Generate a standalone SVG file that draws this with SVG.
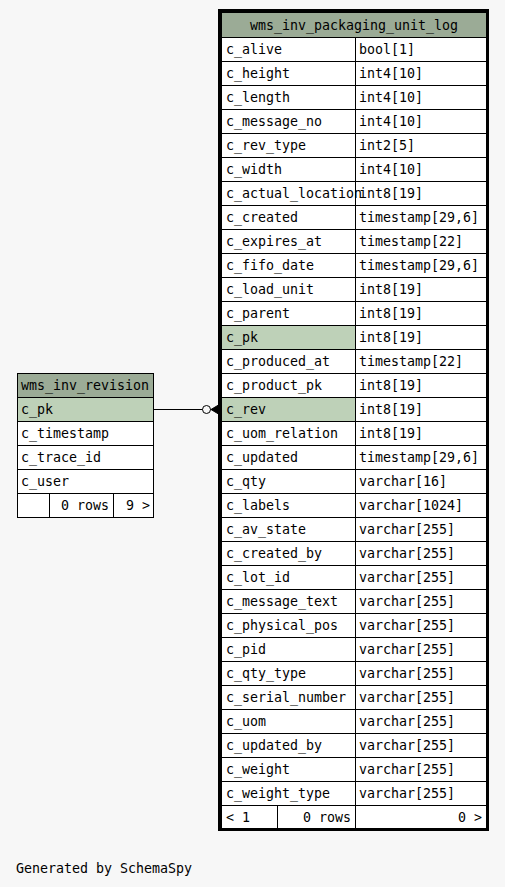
<svg xmlns="http://www.w3.org/2000/svg" width="505" height="887" viewBox="0 0 505 887">
<style>
text{font-family:"DejaVu Sans Mono","Liberation Mono",monospace;font-size:13.3px;fill:#000}
.hd{fill:#9bab96;stroke:#000;stroke-width:1}
.pk{fill:#bed1b8;stroke:#000;stroke-width:1}
.c{fill:#fff;stroke:#000;stroke-width:1}
.m{text-anchor:middle}
.r{text-anchor:end}
</style>
<rect width="505" height="887" fill="#f7f7f7"/>
<g id="connectors">
<line x1="154" y1="409.5" x2="202.5" y2="409.5" stroke="#000" stroke-width="1"/>
<circle cx="206.5" cy="409.5" r="4" fill="none" stroke="#000" stroke-width="1"/>
<polygon points="211,409.5 218.5,405 218.5,414" fill="#000" stroke="#000" stroke-width="1"/>
<line x1="210.5" y1="409.5" x2="218.5" y2="409.5" stroke="#000" stroke-width="1"/>
</g>
<g id="wms_inv_revision">
<rect class="hd" x="17.5" y="373.5" width="136" height="24"/>
<text x="21" y="390">wms_inv_revision</text>
<rect class="pk" x="17.5" y="397.5" width="136" height="24"/>
<text x="21" y="414">c_pk</text>
<rect class="c" x="17.5" y="421.5" width="136" height="24"/>
<text x="21" y="438">c_timestamp</text>
<rect class="c" x="17.5" y="445.5" width="136" height="24"/>
<text x="21" y="462">c_trace_id</text>
<rect class="c" x="17.5" y="469.5" width="136" height="24"/>
<text x="21" y="486">c_user</text>
<rect class="c" x="17.5" y="493.5" width="32" height="24"/>
<rect class="c" x="49.5" y="493.5" width="64" height="24"/>
<rect class="c" x="113.5" y="493.5" width="40" height="24"/>
<text class="r" x="109" y="510">0 rows</text>
<text class="r" x="150" y="510">9 &gt;</text>
</g>
<g id="wms_inv_packaging_unit_log">
<rect x="218" y="9" width="271" height="822" fill="#000"/>
<rect class="hd" x="221.5" y="12.5" width="265" height="25"/>
<text class="m" x="354" y="30">wms_inv_packaging_unit_log</text>
<g id="rows">
<rect class="c" x="221.5" y="37.5" width="134" height="24"/><rect class="c" x="355.5" y="37.5" width="131" height="24"/><text x="226" y="54">c_alive</text><text x="359" y="54">bool[1]</text>
<rect class="c" x="221.5" y="61.5" width="134" height="24"/><rect class="c" x="355.5" y="61.5" width="131" height="24"/><text x="226" y="78">c_height</text><text x="359" y="78">int4[10]</text>
<rect class="c" x="221.5" y="85.5" width="134" height="24"/><rect class="c" x="355.5" y="85.5" width="131" height="24"/><text x="226" y="102">c_length</text><text x="359" y="102">int4[10]</text>
<rect class="c" x="221.5" y="109.5" width="134" height="24"/><rect class="c" x="355.5" y="109.5" width="131" height="24"/><text x="226" y="126">c_message_no</text><text x="359" y="126">int4[10]</text>
<rect class="c" x="221.5" y="133.5" width="134" height="24"/><rect class="c" x="355.5" y="133.5" width="131" height="24"/><text x="226" y="150">c_rev_type</text><text x="359" y="150">int2[5]</text>
<rect class="c" x="221.5" y="157.5" width="134" height="24"/><rect class="c" x="355.5" y="157.5" width="131" height="24"/><text x="226" y="174">c_width</text><text x="359" y="174">int4[10]</text>
<rect class="c" x="221.5" y="181.5" width="134" height="24"/><rect class="c" x="355.5" y="181.5" width="131" height="24"/><text x="226" y="198">c_actual_location</text><text x="359" y="198">int8[19]</text>
<rect class="c" x="221.5" y="205.5" width="134" height="24"/><rect class="c" x="355.5" y="205.5" width="131" height="24"/><text x="226" y="222">c_created</text><text x="359" y="222">timestamp[29,6]</text>
<rect class="c" x="221.5" y="229.5" width="134" height="24"/><rect class="c" x="355.5" y="229.5" width="131" height="24"/><text x="226" y="246">c_expires_at</text><text x="359" y="246">timestamp[22]</text>
<rect class="c" x="221.5" y="253.5" width="134" height="24"/><rect class="c" x="355.5" y="253.5" width="131" height="24"/><text x="226" y="270">c_fifo_date</text><text x="359" y="270">timestamp[29,6]</text>
<rect class="c" x="221.5" y="277.5" width="134" height="24"/><rect class="c" x="355.5" y="277.5" width="131" height="24"/><text x="226" y="294">c_load_unit</text><text x="359" y="294">int8[19]</text>
<rect class="c" x="221.5" y="301.5" width="134" height="24"/><rect class="c" x="355.5" y="301.5" width="131" height="24"/><text x="226" y="318">c_parent</text><text x="359" y="318">int8[19]</text>
<rect class="pk" x="221.5" y="325.5" width="134" height="24"/><rect class="c" x="355.5" y="325.5" width="131" height="24"/><text x="226" y="342">c_pk</text><text x="359" y="342">int8[19]</text>
<rect class="c" x="221.5" y="349.5" width="134" height="24"/><rect class="c" x="355.5" y="349.5" width="131" height="24"/><text x="226" y="366">c_produced_at</text><text x="359" y="366">timestamp[22]</text>
<rect class="c" x="221.5" y="373.5" width="134" height="24"/><rect class="c" x="355.5" y="373.5" width="131" height="24"/><text x="226" y="390">c_product_pk</text><text x="359" y="390">int8[19]</text>
<rect class="pk" x="221.5" y="397.5" width="134" height="24"/><rect class="c" x="355.5" y="397.5" width="131" height="24"/><text x="226" y="414">c_rev</text><text x="359" y="414">int8[19]</text>
<rect class="c" x="221.5" y="421.5" width="134" height="24"/><rect class="c" x="355.5" y="421.5" width="131" height="24"/><text x="226" y="438">c_uom_relation</text><text x="359" y="438">int8[19]</text>
<rect class="c" x="221.5" y="445.5" width="134" height="24"/><rect class="c" x="355.5" y="445.5" width="131" height="24"/><text x="226" y="462">c_updated</text><text x="359" y="462">timestamp[29,6]</text>
<rect class="c" x="221.5" y="469.5" width="134" height="24"/><rect class="c" x="355.5" y="469.5" width="131" height="24"/><text x="226" y="486">c_qty</text><text x="359" y="486">varchar[16]</text>
<rect class="c" x="221.5" y="493.5" width="134" height="24"/><rect class="c" x="355.5" y="493.5" width="131" height="24"/><text x="226" y="510">c_labels</text><text x="359" y="510">varchar[1024]</text>
<rect class="c" x="221.5" y="517.5" width="134" height="24"/><rect class="c" x="355.5" y="517.5" width="131" height="24"/><text x="226" y="534">c_av_state</text><text x="359" y="534">varchar[255]</text>
<rect class="c" x="221.5" y="541.5" width="134" height="24"/><rect class="c" x="355.5" y="541.5" width="131" height="24"/><text x="226" y="558">c_created_by</text><text x="359" y="558">varchar[255]</text>
<rect class="c" x="221.5" y="565.5" width="134" height="24"/><rect class="c" x="355.5" y="565.5" width="131" height="24"/><text x="226" y="582">c_lot_id</text><text x="359" y="582">varchar[255]</text>
<rect class="c" x="221.5" y="589.5" width="134" height="24"/><rect class="c" x="355.5" y="589.5" width="131" height="24"/><text x="226" y="606">c_message_text</text><text x="359" y="606">varchar[255]</text>
<rect class="c" x="221.5" y="613.5" width="134" height="24"/><rect class="c" x="355.5" y="613.5" width="131" height="24"/><text x="226" y="630">c_physical_pos</text><text x="359" y="630">varchar[255]</text>
<rect class="c" x="221.5" y="637.5" width="134" height="24"/><rect class="c" x="355.5" y="637.5" width="131" height="24"/><text x="226" y="654">c_pid</text><text x="359" y="654">varchar[255]</text>
<rect class="c" x="221.5" y="661.5" width="134" height="24"/><rect class="c" x="355.5" y="661.5" width="131" height="24"/><text x="226" y="678">c_qty_type</text><text x="359" y="678">varchar[255]</text>
<rect class="c" x="221.5" y="685.5" width="134" height="24"/><rect class="c" x="355.5" y="685.5" width="131" height="24"/><text x="226" y="702">c_serial_number</text><text x="359" y="702">varchar[255]</text>
<rect class="c" x="221.5" y="709.5" width="134" height="24"/><rect class="c" x="355.5" y="709.5" width="131" height="24"/><text x="226" y="726">c_uom</text><text x="359" y="726">varchar[255]</text>
<rect class="c" x="221.5" y="733.5" width="134" height="24"/><rect class="c" x="355.5" y="733.5" width="131" height="24"/><text x="226" y="750">c_updated_by</text><text x="359" y="750">varchar[255]</text>
<rect class="c" x="221.5" y="757.5" width="134" height="24"/><rect class="c" x="355.5" y="757.5" width="131" height="24"/><text x="226" y="774">c_weight</text><text x="359" y="774">varchar[255]</text>
<rect class="c" x="221.5" y="781.5" width="134" height="24"/><rect class="c" x="355.5" y="781.5" width="131" height="24"/><text x="226" y="798">c_weight_type</text><text x="359" y="798">varchar[255]</text>
</g>
<rect class="c" x="221.5" y="805.5" width="56" height="23"/>
<rect class="c" x="277.5" y="805.5" width="78" height="23"/>
<rect class="c" x="355.5" y="805.5" width="131" height="23"/>
<text x="226" y="822">&lt; 1</text>
<text class="r" x="351" y="822">0 rows</text>
<text class="r" x="482" y="822">0 &gt;</text>
</g>
<text x="16" y="873">Generated by SchemaSpy</text>
</svg>
